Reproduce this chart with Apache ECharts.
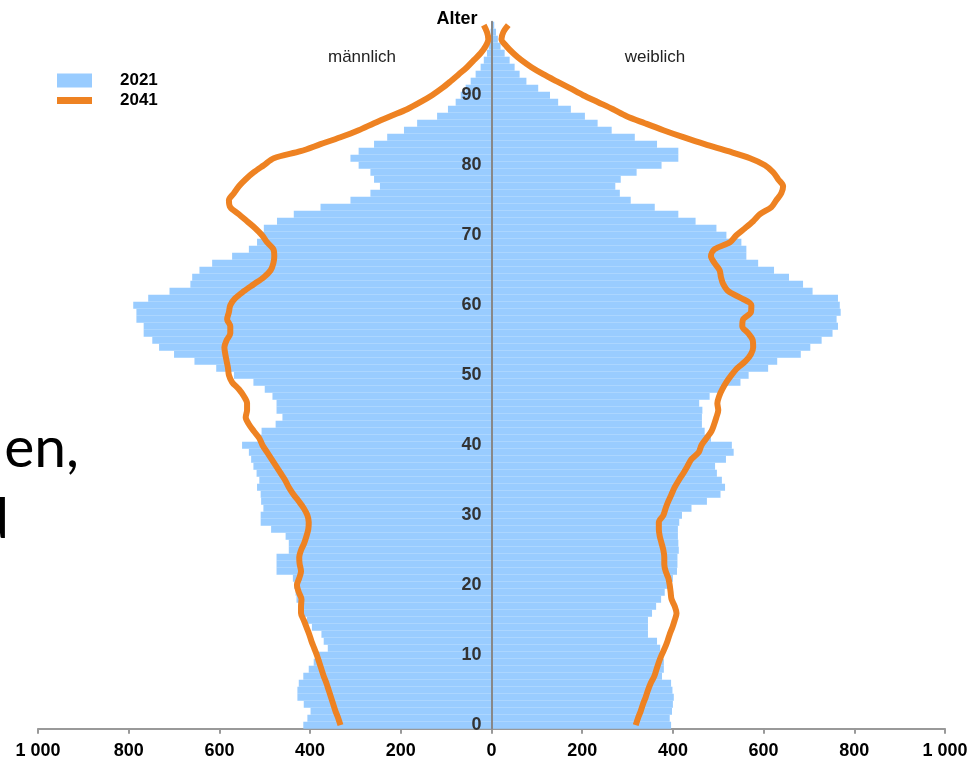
<!DOCTYPE html>
<html><head><meta charset="utf-8">
<script src="https://cdn.jsdelivr.net/npm/echarts@6/dist/echarts.min.js"></script>
<style>html,body{margin:0;padding:0;background:#fff}#c{width:978px;height:758px}</style>
</head><body><div id="c"></div>
<script>
const ages = ['0','1','2','3','4','5','6','7','8','9','10','11','12','13','14','15','16','17','18','19','20','21','22','23','24','25','26','27','28','29','30','31','32','33','34','35','36','37','38','39','40','41','42','43','44','45','46','47','48','49','50','51','52','53','54','55','56','57','58','59','60','61','62','63','64','65','66','67','68','69','70','71','72','73','74','75','76','77','78','79','80','81','82','83','84','85','86','87','88','89','90','91','92','93','94','95','96','97','98','99','100'];

// 2021, in thousands, ages 0..100
const male2021 = [415,406,399,414,428,428,425,415,403,392,384,361,370,375,396,407,414,425,430,432,435,438,474,474,474,447,447,454,486,509,509,503,508,509,517,512,518,525,530,535,550,510,507,476,461,474,474,483,500,525,568,607,655,700,733,748,767,767,783,783,790,757,710,664,660,644,616,572,535,517,506,502,473,436,377,311,267,246,259,267,293,311,293,259,230,193,164,120,96,79,68,57,46,35,24,17,10,6,4,2,1];
const female2021 = [396,393,398,400,402,399,396,376,380,380,378,372,365,345,345,345,354,363,374,382,390,400,409,410,410,413,412,411,411,414,420,441,475,505,515,508,497,493,517,534,530,484,470,464,464,465,458,481,506,549,567,610,630,682,703,728,752,764,761,770,768,764,708,687,656,623,588,562,562,551,518,496,450,412,360,307,283,273,285,320,375,412,412,365,316,265,234,206,175,147,129,103,77,62,51,40,29,20,14,10,6];

// 2041 projection, in thousands, ages 0..100
const male2041 = [333,338,344,349,354,359,364,370,375,380,385,391,397,402,408,414,420,420,419,425,429,424,420,423,424,420,413,408,404,403,406,414,425,437,447,455,465,475,485,495,505,512,524,535,542,539,539,546,557,572,579,581,584,587,589,584,576,576,583,579,576,565,546,524,502,487,481,479,481,495,506,521,539,557,576,579,568,557,542,524,502,480,421,377,333,293,259,223,186,157,131,109,90,72,54,39,24,13,7,10,17];
const female2041 = [318,323,329,334,340,345,351,359,364,369,375,382,388,393,399,404,408,404,397,395,393,390,384,381,381,379,375,371,369,369,379,384,390,397,404,413,423,432,441,457,463,474,485,491,496,500,498,502,509,518,529,542,560,572,577,576,566,553,555,572,573,551,522,511,506,503,492,484,492,526,540,559,577,592,617,628,639,643,632,621,603,570,522,470,423,379,338,298,268,235,202,173,143,114,88,66,48,33,22,26,37];

const xTickValues = [-1000,-800,-600,-400,-200,0,200,400,600,800,1000];
const xTickLabels = ['1 000','800','600','400','200','0','200','400','600','800','1 000'];
const yTickAges = ['0','10','20','30','40','50','60','70','80','90'];

const BLUE = '#99CCFF';
const ORANGE = '#EE8222';
const FONT = '"Liberation Sans", Arial, sans-serif';
const neg = a => a.map(v => -v);

const chart = echarts.init(document.getElementById('c'), null, {renderer: 'canvas'});
chart.setOption({
  animation: false,
  backgroundColor: '#fff',
  grid: {left: 38, right: 33, top: 21.7, bottom: 29.3, containLabel: false, outerBoundsMode: 'none'},
  legend: [
    {data: [{name: '2021', icon: 'rect'}], left: 57, top: 72, padding: 0, itemWidth: 35, itemHeight: 14, selectedMode: false,
     textStyle: {fontSize: 17, fontWeight: 'bold', color: '#000', fontFamily: FONT, padding: [0, 0, 2, 23]}},
    {data: [{name: '2041', icon: 'rect'}], left: 57, top: 92, padding: 0, itemWidth: 35, itemHeight: 7, selectedMode: false,
     textStyle: {fontSize: 17, fontWeight: 'bold', color: '#000', fontFamily: FONT, padding: [0, 0, 2, 23]}}
  ],
  xAxis: {
    type: 'value', min: -1000, max: 1000, interval: 200,
    axisLine: {show: true, onZero: false, lineStyle: {color: '#999', width: 2}},
    axisTick: {show: true, length: 5, lineStyle: {color: '#999', width: 2}},
    splitLine: {show: false},
    axisLabel: {margin: 13, color: '#000', fontWeight: 'bold', fontSize: 18, fontFamily: FONT,
      formatter: v => { const i = xTickValues.indexOf(v); return i >= 0 ? xTickLabels[i] : ''; }}
  },
  yAxis: {
    type: 'category', data: ages, z: 3, position: 'left', offset: -453.5,
    axisLine: {show: true, onZero: false, lineStyle: {color: '#888', width: 2}},
    axisTick: {show: false},
    splitLine: {show: false},
    axisLabel: {margin: 10, color: '#333', fontWeight: 'bold', fontSize: 18, fontFamily: FONT,
      interval: (i, v) => yTickAges.indexOf(String(v)) >= 0}
  },
  series: [
    {name: '2021', type: 'bar', data: neg(male2021), barGap: '-100%', barCategoryGap: '0%', z: 1,
     itemStyle: {color: BLUE}},
    {name: '2021', type: 'bar', data: female2021, barGap: '-100%', barCategoryGap: '0%', z: 1,
     itemStyle: {color: BLUE}},
    {name: '2041', type: 'line', data: neg(male2041), smooth: 0.3, symbol: 'none', z: 4,
     lineStyle: {color: ORANGE, width: 6}, itemStyle: {color: ORANGE}},
    {name: '2041', type: 'line', data: female2041, smooth: 0.3, symbol: 'none', z: 4,
     lineStyle: {color: ORANGE, width: 6}, itemStyle: {color: ORANGE}}
  ],
  graphic: [
    {type: 'text', x: 457, y: 19, z: 10, style: {text: 'Alter', font: 'bold 18px ' + FONT, fill: '#000', align: 'center', verticalAlign: 'middle'}},
    {type: 'text', x: 362, y: 57, z: 10, style: {text: 'männlich', font: '17px ' + FONT, fill: '#222', align: 'center', verticalAlign: 'middle'}},
    {type: 'text', x: 655, y: 57, z: 10, style: {text: 'weiblich', font: '17px ' + FONT, fill: '#222', align: 'center', verticalAlign: 'middle'}},
    {type: 'text', x: 79, y: 449, z: 10, style: {text: 'en,', font: '57px Lato, "Open Sans", sans-serif', fill: '#000', align: 'right', verticalAlign: 'middle'}},
    {type: 'text', x: 9, y: 520, z: 10, style: {text: 'd', font: '57px Lato, "Open Sans", sans-serif', fill: '#000', align: 'right', verticalAlign: 'middle'}}
  ]
});
</script>
</body></html>
